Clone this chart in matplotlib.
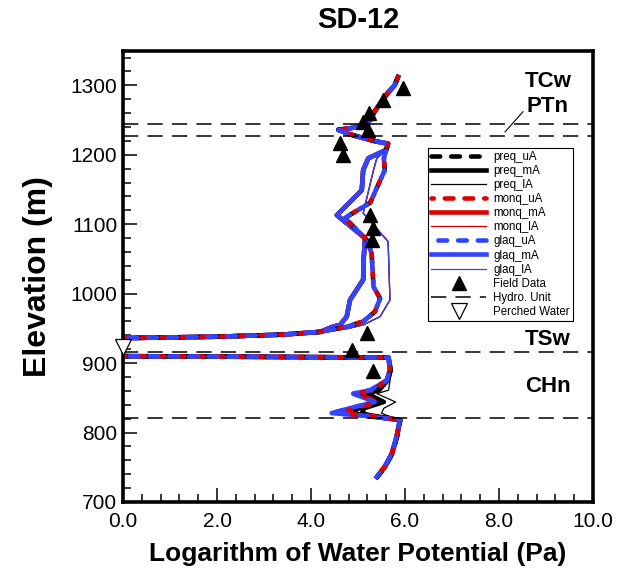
import numpy as np
import matplotlib
matplotlib.use("Agg")
import matplotlib.pyplot as plt
from matplotlib.ticker import MultipleLocator, FormatStrFormatter

plt.rcParams['font.family'] = ['Liberation Sans', 'DejaVu Sans']

# upper part, same for all runs
top_z = [1312, 1300, 1288, 1274, 1262, 1250, 1242, 1238, 1236, 1230, 1224, 1219, 1216, 1207]
top_x = [5.85, 5.78, 5.62, 5.47, 5.35, 5.26, 5.05, 4.83, 4.58, 4.80, 5.11, 5.40, 5.64, 5.60]

# middle part (TSw), one shape per parameter case
mid_z_u = [1195, 1178, 1131, 1109, 1077, 1058, 1010, 993, 974, 960, 952]
mid_x_u = [5.55, 5.57, 5.26, 4.72, 5.19, 5.29, 5.33, 5.47, 5.36, 5.11, 4.75]
mid_z_m = [1195, 1178, 1149, 1113, 1080, 1050, 1020, 991, 967, 955, 952]
mid_x_m = [5.22, 5.11, 5.08, 4.55, 5.15, 5.12, 5.11, 4.83, 4.76, 4.62, 4.45]
mid_z_l = [1195, 1178, 1116, 1075, 991, 967, 955, 950]
mid_x_l = [5.40, 5.33, 5.11, 5.64, 5.68, 5.47, 5.11, 4.80]

# perched water zone
perch_z = [945, 941, 938, 936, 910, 908]
perch_x = [4.20, 3.40, 2.00, 0.00, 0.00, 5.65]

# lower part (CHn)
low_z = [890, 875, 861, 856, 844, 835, 828, 825, 818, 794, 770, 751, 736]
low_x_blue = [5.68, 5.61, 5.26, 4.90, 5.36, 4.83, 4.44, 5.04, 5.89, 5.82, 5.72, 5.57, 5.40]
low_x_red = [5.68, 5.61, 5.30, 5.00, 5.40, 4.95, 4.62, 5.10, 5.89, 5.82, 5.72, 5.57, 5.40]
low_x_black_u = [5.69, 5.62, 5.35, 5.08, 5.45, 5.02, 4.85, 5.15, 5.90, 5.83, 5.73, 5.58, 5.41]
low_x_black_m = [5.70, 5.63, 5.45, 5.20, 5.55, 5.13, 5.08, 5.25, 5.90, 5.83, 5.73, 5.58, 5.41]
low_x_black_l = [5.72, 5.68, 5.65, 5.40, 5.80, 5.55, 5.50, 5.60, 5.92, 5.84, 5.74, 5.59, 5.42]

# field data
field_x = [5.96, 5.53, 5.23, 5.11, 5.21, 4.62, 4.68, 5.26, 5.32, 5.30, 5.19, 4.87, 5.32]
field_z = [1296, 1279, 1260, 1247, 1236, 1217, 1200, 1113, 1094, 1077, 943, 919, 888]

perched_x = [0.0]
perched_z = [923]

units_z = [1244, 1227, 916, 821]
unit_names = ["TCw", "PTn", "TSw", "CHn"]
unit_label_z = [1306, 1269, 934, 866]

mid = {"u": (mid_x_u, mid_z_u), "m": (mid_x_m, mid_z_m), "l": (mid_x_l, mid_z_l)}
low = {("preq", "u"): low_x_black_u, ("preq", "m"): low_x_black_m, ("preq", "l"): low_x_black_l}
for c in ["u", "m", "l"]:
    low[("monq", c)] = low_x_red
    low[("glaq", c)] = low_x_blue

colors = {"preq": "black", "monq": "#dd0000", "glaq": "#3344ff"}

fig = plt.figure(figsize=(6.26, 5.75), dpi=100)
ax = fig.add_axes([0.1965, 0.127, 0.7508, 0.785])

handles = {}
for case in ["l", "m", "u"]:
    for i, model in enumerate(["preq", "monq", "glaq"]):
        mx, mz = mid[case]
        x = np.concatenate([top_x, mx, perch_x, low[(model, case)]])
        z = np.concatenate([top_z, mz, perch_z, low_z])
        if case == "u":
            ln, = ax.plot(x, z, color=colors[model], lw=3.3,
                          linestyle=(i * 1.4, (1.9, 2.4)), dash_capstyle="round")
        elif case == "m":
            ln, = ax.plot(x, z, color=colors[model], lw=3.3)
        else:
            ln, = ax.plot(x, z, color=colors[model], lw=0.9)
        handles[model + "_" + case + "A"] = ln

for zu in units_z:
    hu, = ax.plot([0, 10], [zu, zu], color="black", lw=1.1, linestyle=(0, (10, 6)))
ax.plot([8.13, 8.51], [1233, 1262], color="black", lw=0.8)

hf, = ax.plot(field_x, field_z, linestyle="none", marker="^", markersize=10.5,
              color="black", zorder=5)
hp, = ax.plot(perched_x, perched_z, linestyle="none", marker="v", markersize=11,
              mfc="white", mec="black", mew=0.9, zorder=6, clip_on=False)

for name, zl in zip(unit_names, unit_label_z):
    ax.text(9.04, zl, name, fontsize=16, fontweight="bold", ha="center", va="center")

order = ["preq_uA", "preq_mA", "preq_lA", "monq_uA", "monq_mA", "monq_lA",
         "glaq_uA", "glaq_mA", "glaq_lA"]
labels = ["preq_uA", "preq_mA", "preq_lA", "monq_uA", "monq_mA", "monq_lA",
          "glaq_uA", "glaq_mA", "glaq_lA", "Field Data", "Hydro. Unit", "Perched Water"]
leg = ax.legend([handles[k] for k in order] + [hf, hu, hp], labels,
                loc="upper left", bbox_to_anchor=(0.649, 0.784), borderaxespad=0,
                fontsize=8.3, labelspacing=0.18, handlelength=4.8, handletextpad=0.6,
                borderpad=0.25, numpoints=1, fancybox=False, framealpha=1)
leg.get_frame().set_edgecolor("black")
leg.get_frame().set_linewidth(0.8)

ax.set_xlim(0, 10)
ax.set_ylim(700, 1350)
ax.xaxis.set_major_locator(MultipleLocator(2))
ax.xaxis.set_minor_locator(MultipleLocator(0.4))
ax.xaxis.set_major_formatter(FormatStrFormatter("%.1f"))
ax.yaxis.set_major_locator(MultipleLocator(100))
ax.yaxis.set_minor_locator(MultipleLocator(20))
ax.tick_params(which="both", direction="in", top=False, right=False, labelsize=15)
ax.tick_params(which="major", length=10, width=1.1)
ax.tick_params(which="minor", length=5.5, width=1.1)
ax.tick_params(axis="x", which="major", pad=7)
ax.tick_params(axis="y", which="major", pad=4)
for s in ax.spines.values():
    s.set_linewidth(2.6)

ax.set_title("SD-12", fontsize=21, fontweight="bold", pad=16)
ax.set_xlabel("Logarithm of Water Potential (Pa)", fontsize=19, fontweight="bold", labelpad=8)
ax.set_ylabel("Elevation (m)", fontsize=23, fontweight="bold", labelpad=13)

fig.savefig("out.png", dpi=100)
